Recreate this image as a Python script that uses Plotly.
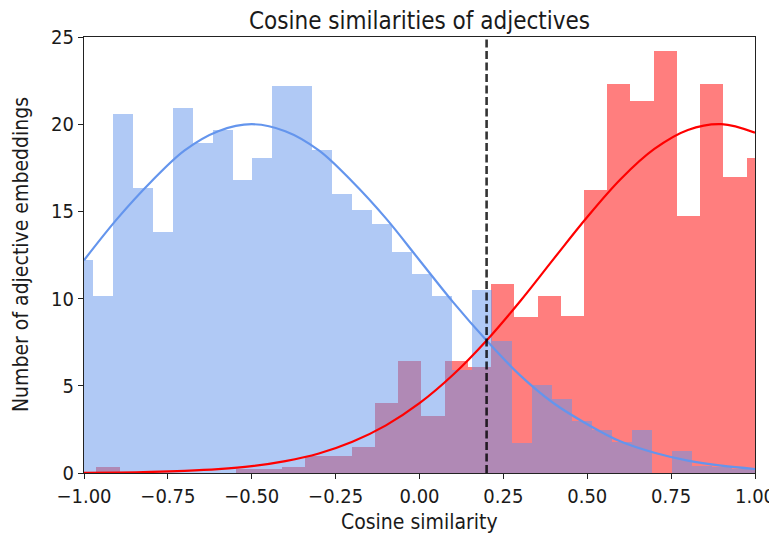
import plotly.graph_objects as go

# ---------------- data ----------------
blue_bin_start = -1.0337
blue_bin_width = 0.05954
blue_counts = [12.2, 10.15, 20.57, 16.36, 13.82, 20.95, 18.92, 19.65, 16.82, 18.08,
               22.21, 22.21, 18.54, 16.02, 15.10, 14.30, 12.67, 11.43, 10.13, 5.93,
               10.48, 7.57, 1.74, 5.03, 4.23, 2.98, 2.49, 1.78, 2.49, 0.0,
               1.26, 0.42, 0.34, 0.25, 0.25]

red_bin_start = -1.0325
red_bin_width = 0.06922
red_counts = [0.0, 0.34, 0.0, 0.0, 0.0, 0.0, 0.0, 0.25, 0.25, 0.34,
              0.95, 0.95, 1.5, 4.04, 6.42, 3.25, 6.42, 6.08, 10.82, 8.97,
              10.13, 8.98, 16.21, 22.33, 21.31, 24.18, 14.76, 22.33, 16.96, 18.06]

curve_x = [-1.0, -0.9, -0.8, -0.7, -0.6, -0.5, -0.4, -0.3, -0.2, -0.1, 0.0,
           0.1, 0.2, 0.3, 0.4, 0.5, 0.6, 0.7, 0.8, 0.9, 1.0]
blue_curve = [12.2, 14.6, 16.7, 18.5, 19.6, 20.0, 19.6, 18.5, 16.7, 14.6, 12.2,
              9.8, 7.6, 5.6, 4.0, 2.8, 1.8, 1.16, 0.71, 0.42, 0.23]
red_curve = [0.014, 0.03, 0.06, 0.12, 0.22, 0.39, 0.68, 1.12, 1.79, 2.73, 4.0,
             5.63, 7.6, 9.85, 12.28, 14.68, 16.86, 18.58, 19.67, 20.0, 19.51]

threshold = 0.2

x_tick_vals = [-1.0, -0.75, -0.5, -0.25, 0.0, 0.25, 0.5, 0.75, 1.0]
x_tick_text = ["\u22121.00", "\u22120.75", "\u22120.50", "\u22120.25", "0.00",
               "0.25", "0.50", "0.75", "1.00"]
y_tick_vals = [0, 5, 10, 15, 20, 25]

title = "Cosine similarities of adjectives"
x_label = "Cosine similarity"
y_label = "Number of adjective embeddings"

# ---------------- figure ----------------
blue_x = [blue_bin_start + blue_bin_width * (i + 0.5) for i in range(len(blue_counts))]
red_x = [red_bin_start + red_bin_width * (i + 0.5) for i in range(len(red_counts))]

fig = go.Figure()
fig.add_trace(go.Bar(x=red_x, y=red_counts, width=red_bin_width,
                     marker=dict(color="rgb(255,0,0)", line=dict(width=0)),
                     opacity=0.5, showlegend=False))
fig.add_trace(go.Bar(x=blue_x, y=blue_counts, width=blue_bin_width,
                     marker=dict(color="#6495ED", line=dict(width=0)),
                     opacity=0.5, showlegend=False))
fig.add_trace(go.Scatter(x=curve_x, y=blue_curve, mode="lines",
                         line=dict(color="#6495ED", width=2.2, shape="spline"),
                         showlegend=False))
fig.add_trace(go.Scatter(x=curve_x, y=red_curve, mode="lines",
                         line=dict(color="red", width=2.2, shape="spline"),
                         showlegend=False))
fig.add_trace(go.Scatter(x=[threshold, threshold], y=[0, 25], mode="lines",
                         line=dict(color="rgba(0,0,0,0.8)", width=2.6, dash="8px,3.5px"),
                         showlegend=False))

# The page body adds an 8 px offset, so the figure is 8 px smaller than the window.
W, H = 769, 532
L, R, T, B = 76, 21.5, 28.5, 67.3
plot_h = H - T - B
plot_w = W - L - R

font = "DejaVu Sans Condensed, DejaVu Sans, sans-serif"
txt = "#1a1a1a"
fig.update_layout(
    width=W, height=H,
    margin=dict(l=L, r=R, t=T, b=B, autoexpand=False),
    paper_bgcolor="white", plot_bgcolor="white",
    barmode="overlay", bargap=0,
    font=dict(family=font, size=20, color=txt),
    title=dict(text=title, x=0.5, xanchor="center", xref="paper",
               y=1 - 12.5 / H, yref="container", yanchor="middle",
               font=dict(size=24, color=txt)),
    xaxis=dict(range=[-1, 1], tickvals=x_tick_vals, ticktext=x_tick_text,
               showgrid=False, zeroline=False, showline=True, linecolor="#222",
               linewidth=1.2, mirror=True, ticks="outside", ticklen=5,
               tickcolor="#222", tickwidth=1.2, automargin=False,
               tickfont=dict(size=20)),
    yaxis=dict(range=[0, 25], tickvals=y_tick_vals,
               showgrid=False, zeroline=False, showline=True, linecolor="#222",
               linewidth=1.2, mirror=True, ticks="outside", ticklen=5,
               tickcolor="#222", tickwidth=1.2, automargin=False,
               tickfont=dict(size=20)),
    annotations=[
        dict(text=x_label, xref="paper", yref="paper", x=0.5,
             y=-(514 - (H - B)) / plot_h, xanchor="center", yanchor="middle",
             showarrow=False, font=dict(size=21, color=txt)),
        dict(text=y_label, xref="paper", yref="paper", x=-(L - 13) / plot_w,
             y=0.5, xanchor="center", yanchor="middle", textangle=-90,
             showarrow=False, font=dict(size=21, color=txt)),
    ],
)

fig.write_html("out.html")
